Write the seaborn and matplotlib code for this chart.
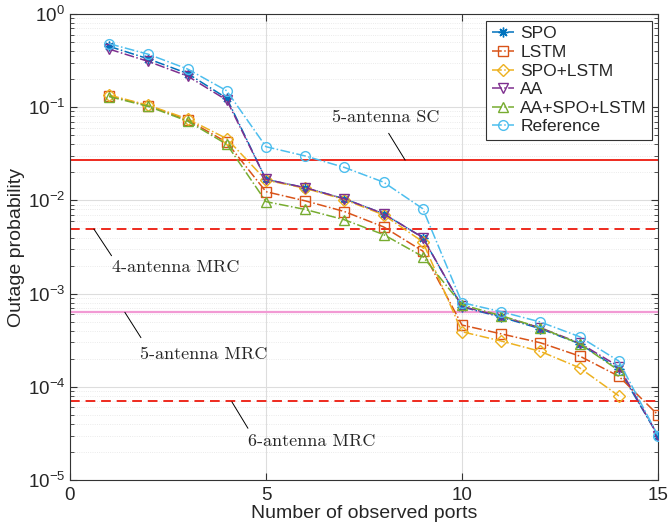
import numpy as np
import matplotlib
matplotlib.use("Agg")
import matplotlib.pyplot as plt
import seaborn as sns

# data
ports = [1, 2, 3, 4, 5, 6, 7, 8, 9, 10, 11, 12, 13, 14, 15]
spo = [0.45, 0.33, 0.23, 0.125, 0.0168, 0.0137, 0.0104, 0.0072, 0.0040,
       7.2e-4, 5.6e-4, 4.2e-4, 2.9e-4, 1.55e-4, 3.0e-5]
lstm = [0.132, 0.104, 0.073, 0.042, 0.0124, 0.0099, 0.0076, 0.0052, 0.00286,
        4.6e-4, 3.7e-4, 2.97e-4, 2.14e-4, 1.3e-4, 5.0e-5]
spo_lstm = [0.135, 0.105, 0.075, 0.046, 0.0165, 0.0135, 0.0102, 0.0070, 0.0036,
            3.9e-4, 3.1e-4, 2.4e-4, 1.6e-4, 8.0e-5]
aa = [0.42, 0.31, 0.216, 0.119, 0.0168, 0.0137, 0.0104, 0.0072, 0.0040,
      7.3e-4, 5.7e-4, 4.3e-4, 2.95e-4, 1.65e-4, 3.0e-5]
aa_spo_lstm = [0.13, 0.102, 0.071, 0.040, 0.0097, 0.0080, 0.0062, 0.0043, 0.0025,
               7.6e-4, 5.8e-4, 4.3e-4, 2.9e-4, 1.5e-4]
reference = [0.48, 0.37, 0.257, 0.150, 0.0377, 0.030, 0.0226, 0.0157, 0.00815,
             8.0e-4, 6.4e-4, 4.96e-4, 3.45e-4, 1.89e-4, 3.0e-5]

sc5 = 0.027
mrc4 = 0.0049
mrc5 = 6.3e-4
mrc6 = 7.0e-5

series = [
    ("SPO", spo, "#0072BD", (8, 2, 0), 7),
    ("LSTM", lstm, "#D95319", "s", 6.5),
    ("SPO+LSTM", spo_lstm, "#EDB120", "D", 6.5),
    ("AA", aa, "#7E2F8E", "v", 7.5),
    ("AA+SPO+LSTM", aa_spo_lstm, "#77AC30", "^", 7.5),
    ("Reference", reference, "#4DBEEE", "o", 7),
]

sns.set_style("ticks")
plt.rcParams["font.family"] = ["Liberation Sans", "DejaVu Sans"]

fig, ax = plt.subplots(figsize=(6.69, 5.29), dpi=100)
fig.subplots_adjust(left=0.1046, right=0.9835, top=0.9735, bottom=0.0926)

for name, vals, col, mk, ms in series:
    sns.lineplot(x=ports[:len(vals)], y=vals, ax=ax, label=name, color=col,
                 marker=mk, markersize=ms, markerfacecolor="none",
                 markeredgecolor=col, markeredgewidth=1.0, linestyle="-.",
                 linewidth=1.1, zorder=3)

# benchmark levels
ax.axhline(sc5, color="#EE2A1E", lw=1.4, zorder=2)
ax.axhline(mrc4, color="#EE2A1E", lw=1.4, ls=(0, (5, 3)), zorder=2)
ax.axhline(mrc5, color="#F29AD4", lw=1.6, zorder=2)
ax.axhline(mrc6, color="#EE2A1E", lw=1.4, ls=(0, (5, 3)), zorder=2)

# annotations
tfont = dict(family="cmr10", fontsize=13)
ax.plot([8.13, 8.55], [0.0525, 0.0271], color="k", lw=0.7)
ax.text(6.69, 0.0771, "5-antenna SC", ha="left", va="center", **tfont)
ax.plot([0.61, 1.06], [0.00493, 0.00255], color="k", lw=0.7)
ax.text(1.07, 0.0019, "4-antenna MRC", ha="left", va="center", **tfont)
ax.plot([1.40, 1.81], [6.3e-4, 3.37e-4], color="k", lw=0.7)
ax.text(1.78, 2.23e-4, "5-antenna MRC", ha="left", va="center", **tfont)
ax.plot([4.13, 4.54], [6.9e-5, 3.59e-5], color="k", lw=0.7)
ax.text(4.54, 2.58e-5, "6-antenna MRC", ha="left", va="center", **tfont)

ax.set_yscale("log")
ax.set_xlim(0, 15)
ax.set_ylim(1e-5, 1)
ax.set_xticks([0, 5, 10, 15])
ax.set_xlabel("Number of observed ports", fontsize=14, labelpad=1)
ax.set_ylabel("Outage probability", fontsize=14, labelpad=2)

ax.grid(True, which="major", color="#dddddd", lw=0.8)
ax.grid(True, which="minor", axis="y", color="#e4e4e4", lw=0.6, ls=":")
ax.tick_params(which="both", direction="in", top=True, right=True,
               labelsize=13.5, color="#333333")
ax.tick_params(which="major", length=5)
ax.tick_params(which="minor", length=3)
ax.tick_params(axis="x", pad=5)
for sp in ax.spines.values():
    sp.set_color("#333333")
    sp.set_linewidth(0.8)

leg = ax.legend(loc="upper right", bbox_to_anchor=(0.99, 0.985),
                borderaxespad=0, fontsize=12.5, labelspacing=0.2,
                handlelength=1.3, handletextpad=0.35, borderpad=0.3,
                fancybox=False, framealpha=1, edgecolor="#333333")
leg.get_frame().set_linewidth(0.8)

fig.savefig("out.png", dpi=100)
